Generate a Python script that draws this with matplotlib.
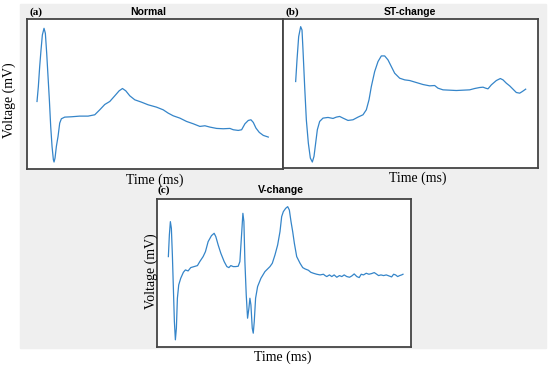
import matplotlib
matplotlib.use("Agg")
import matplotlib.pyplot as plt
from matplotlib.patches import Rectangle

# =========================
# DATA
# =========================
# (a) Normal
t_normal = [0, 4, 8, 12, 16, 21, 25, 29, 33, 37, 41, 45, 49, 51, 54, 58, 63, 68, 73, 83,
            103, 128, 153, 173, 188, 203, 218, 233, 246, 256, 266, 278, 293, 313, 333, 358,
            378, 393, 408, 428, 448, 468, 488, 503, 518, 538, 558, 578, 588, 603, 613, 623,
            633, 641, 648, 656, 666, 678, 693]
v_normal = [0.45, 0.90, 1.50, 2.00, 2.45, 2.65, 2.50, 1.90, 1.20, 0.50, -0.30, -0.90, -1.30,
            -1.37, -1.25, -0.90, -0.60, -0.20, -0.07, -0.02, -0.01, 0.01, 0.01, 0.05, 0.20,
            0.36, 0.45, 0.62, 0.77, 0.84, 0.77, 0.62, 0.50, 0.43, 0.35, 0.28, 0.20, 0.10,
            0.02, -0.05, -0.15, -0.22, -0.30, -0.28, -0.32, -0.36, -0.37, -0.36, -0.40,
            -0.42, -0.40, -0.22, -0.12, -0.10, -0.18, -0.35, -0.48, -0.57, -0.62]

# (b) ST-change
t_st = [0, 4, 9, 15, 19, 22, 27, 32, 38, 44, 50, 55, 60, 65, 72, 82, 97, 112, 122, 132,
        142, 157, 172, 187, 202, 212, 220, 227, 237, 247, 257, 267, 277, 287, 297, 312,
        327, 342, 362, 382, 402, 417, 427, 442, 462, 482, 502, 522, 537, 552, 562, 570,
        577, 587, 602, 614, 622, 632, 642, 652, 662, 672, 680, 690]
v_st = [1.05, 1.70, 2.40, 2.70, 2.60, 2.00, 0.90, -0.10, -0.80, -1.25, -1.37, -1.20, -0.80,
        -0.40, -0.15, -0.05, -0.03, -0.06, -0.02, 0.00, -0.05, -0.12, -0.10, -0.02, 0.05,
        0.20, 0.50, 0.90, 1.35, 1.65, 1.82, 1.82, 1.70, 1.50, 1.30, 1.15, 1.10, 1.08, 1.02,
        0.96, 0.92, 0.93, 0.85, 0.80, 0.79, 0.78, 0.79, 0.80, 0.84, 0.87, 0.88, 0.85, 0.83,
        0.95, 1.08, 1.14, 1.10, 1.00, 0.92, 0.82, 0.72, 0.70, 0.75, 0.82]

# (c) V-change
t_v = [0, 3, 6, 9, 12, 15, 18, 21, 24, 27, 31, 37, 45, 51, 59, 67, 77, 87, 94, 104, 111,
       119, 129, 137, 142, 149, 157, 167, 175, 181, 187, 194, 201, 209, 214, 219, 223, 226,
       229, 233, 237, 241, 244, 247, 251, 254, 257, 261, 267, 277, 289, 304, 311, 319, 327,
       334, 339, 344, 351, 357, 362, 367, 372, 377, 384, 394, 402, 409, 419, 426, 434, 444,
       454, 464, 469, 474, 482, 489, 496, 504, 512, 519, 526, 534, 542, 549, 556, 564, 571,
       577, 584, 592, 600, 608, 616, 622, 629, 636, 644, 652, 660, 668, 674, 680, 686, 692,
       698, 702]
v_v = [0.55, 1.20, 1.60, 1.40, 0.60, -0.40, -1.40, -1.95, -1.60, -0.70, -0.30, -0.10, 0.08,
       0.15, 0.12, 0.22, 0.25, 0.28, 0.40, 0.55, 0.70, 1.00, 1.18, 1.25, 1.15, 0.90, 0.65,
       0.40, 0.25, 0.22, 0.28, 0.25, 0.25, 0.26, 0.40, 1.20, 1.85, 1.60, 0.40, -0.60, -1.30,
       -1.00, -0.70, -0.90, -1.60, -1.75, -1.40, -0.70, -0.35, -0.10, 0.10, 0.25, 0.35,
       0.60, 0.90, 1.30, 1.75, 1.90, 2.00, 2.05, 1.95, 1.60, 1.30, 0.95, 0.55, 0.35, 0.22,
       0.18, 0.14, 0.08, 0.05, 0.02, 0.00, 0.02, -0.02, -0.05, 0.00, -0.05, 0.00, -0.07,
       -0.02, -0.05, 0.00, -0.05, -0.07, -0.03, 0.03, -0.05, -0.08, 0.02, 0.00, 0.05, 0.02,
       0.04, 0.07, 0.03, -0.02, 0.00, -0.02, 0.00, -0.03, -0.06, 0.02, 0.00, -0.05, -0.02,
       0.00, 0.02]

line_color = '#3585c9'
frame_color = '#444444'

# =========================
# FIGURE
# =========================
fig = plt.figure(figsize=(5.5, 3.66), dpi=100)
fig.patches.append(Rectangle((20 / 550, 18 / 366), 526 / 550, 344 / 366,
                             transform=fig.transFigure, color='#efefef', zorder=-10))

def panel(rect, t, v, xlim, ylim):
    ax = fig.add_axes(rect)
    ax.plot(t, v, color=line_color, lw=0.9)
    ax.set_xlim(xlim)
    ax.set_ylim(ylim)
    ax.set_xticks([])
    ax.set_yticks([])
    for s in ax.spines.values():
        s.set_color(frame_color)
        s.set_linewidth(1.3)
    return ax

panel([27 / 550, 197 / 366, 256 / 550, 150 / 366], t_normal, v_normal, (-30, 737), (-1.58, 2.93))
panel([283 / 550, 198 / 366, 255 / 550, 149 / 366], t_st, v_st, (-38, 727), (-1.55, 2.93))
panel([157 / 550, 19.5 / 366, 254 / 550, 147.5 / 366], t_v, v_v, (-34, 726), (-2.15, 2.28))

serif = ['Liberation Serif', 'DejaVu Serif']
sans = ['Liberation Sans', 'DejaVu Sans']

def ftext(x, y, s, **kw):
    fig.text(x / 550, 1 - y / 366, s, **kw)

# panel letters and titles
ftext(30, 12, '(a)', family=serif, weight='bold', fontsize=8, va='center')
ftext(148, 12, 'Normal', family=sans, weight='bold', fontsize=7.5, ha='center', va='center')
ftext(285, 12, '(b)', family=serif, weight='bold', fontsize=8, va='center')
ftext(410, 12, 'ST-change', family=sans, weight='bold', fontsize=7.5, ha='center', va='center')
ftext(158, 190, '(c)', family=serif, weight='bold', fontsize=8, va='center')
ftext(281, 190, 'V-change', family=sans, weight='bold', fontsize=7.5, ha='center', va='center')

# axis labels
ftext(155, 180, 'Time (ms)', family=serif, fontsize=10, ha='center', va='center')
ftext(418, 178, 'Time (ms)', family=serif, fontsize=10, ha='center', va='center')
ftext(283, 357, 'Time (ms)', family=serif, fontsize=10, ha='center', va='center')
ftext(9, 100, 'Voltage (mV)', family=serif, fontsize=10, ha='center', va='center', rotation=90)
ftext(151, 271, 'Voltage (mV)', family=serif, fontsize=10, ha='center', va='center', rotation=90)

fig.savefig('out.png', dpi=100)
